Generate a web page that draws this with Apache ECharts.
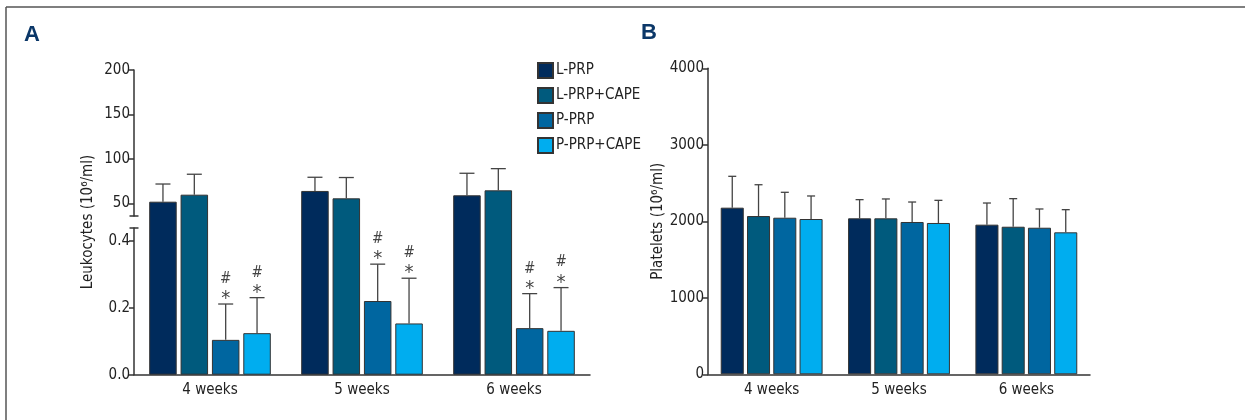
<!DOCTYPE html>
<html>
<head>
<meta charset="utf-8">
<script src="https://cdn.jsdelivr.net/npm/echarts@6/dist/echarts.min.js"></script>
<style>
html, body { margin: 0; padding: 0; background: #fff; }
#main { width: 1245px; height: 420px; }
</style>
</head>
<body>
<div id="main"></div>
<script>
var weeks = ['4 weeks', '5 weeks', '6 weeks'];
var groups = ['L-PRP', 'L-PRP+CAPE', 'P-PRP', 'P-PRP+CAPE'];
var colors = ['#002b5c', '#005a7d', '#0066a0', '#00adef'];

// leukocytes (10^6/ml): mean, mean+SD, significance marks (1 = * and #)
var leukoMean = [
  [51.8, 63.9, 59.0],
  [59.7, 55.6, 64.6],
  [0.104, 0.22, 0.139],
  [0.124, 0.153, 0.131]
];
var leukoTop = [
  [71.7, 79.3, 83.8],
  [82.7, 79.0, 89.0],
  [0.211, 0.33, 0.242],
  [0.23, 0.288, 0.26]
];
var leukoMarks = [
  [0, 0, 0],
  [0, 0, 0],
  [1, 1, 1],
  [1, 1, 1]
];
var leukoUpperTicks = [50, 100, 150, 200];
var leukoLowerTicks = [0, 0.2, 0.4];

// platelets (10^6/ml): mean, mean+SD
var plateMean = [
  [2178, 2039, 1956],
  [2069, 2039, 1929],
  [2047, 1991, 1916],
  [2030, 1978, 1856]
];
var plateTop = [
  [2588, 2283, 2239],
  [2478, 2292, 2296],
  [2379, 2252, 2161],
  [2331, 2274, 2152]
];

var FONT = "'Liberation Sans Narrow', 'DejaVu Sans Condensed', sans-serif";
var TXT = '#222';
var AX = '#333';
var FS = 15;

var chartDom = document.getElementById('main');
var myChart = echarts.init(chartDom);

// broken axis geometry for panel A
var aLeft = 134, aWidth = 456;
var upTop = 70, upBottom = 216;     // 200 at 70, 50 at 203.3
var lowTop = 228, lowBottom = 374.7; // 0 at 374.7, 0.2 per 67px
var upPerPx = 150 / (203.3 - 70);
var upMin = 50 - (upBottom - 203.3) * upPerPx;
var upStart = 50 - (lowBottom - 203.3) * upPerPx;
var lowPerPx = 0.2 / 67;
var lowDataMax = (lowBottom - upBottom) * lowPerPx;
var lowAxisMax = (lowBottom - lowTop) * lowPerPx;

var catGap = 0.2, barGap = 0.14;

function errRender(capW) {
  return function (params, api) {
    var ci = api.value(0), si = api.value(1);
    var top = api.value(2), mean = api.value(3), mark = api.value(4);
    var band = api.size([1, 0])[0];
    var grp = band * (1 - catGap);
    var bw = grp / (4 + 3 * barGap);
    var c = api.coord([ci, mean]);
    var t = api.coord([ci, top]);
    var x = c[0] - grp / 2 + si * bw * (1 + barGap) + bw / 2;
    var lineStyle = { stroke: '#444', lineWidth: 1.3 };
    var children = [
      { type: 'line', shape: { x1: x, y1: c[1], x2: x, y2: t[1] }, style: lineStyle },
      { type: 'line', shape: { x1: x - capW / 2, y1: t[1], x2: x + capW / 2, y2: t[1] }, style: lineStyle }
    ];
    if (mark) {
      children.push({ type: 'text', style: { text: '*', x: x, y: t[1] - 5, align: 'center', verticalAlign: 'middle', font: '20px ' + FONT, fill: '#444' } });
      children.push({ type: 'text', style: { text: '#', x: x, y: t[1] - 25, align: 'center', verticalAlign: 'middle', font: '15px ' + FONT, fill: '#444' } });
    }
    return { type: 'group', children: children };
  };
}

function errData(mean, top, marks, test) {
  var out = [];
  for (var s = 0; s < mean.length; s++) {
    for (var i = 0; i < mean[s].length; i++) {
      if (test(mean[s][i])) out.push([i, s, top[s][i], mean[s][i], marks ? marks[s][i] : 0]);
    }
  }
  return out;
}

var series = [];
groups.forEach(function (g, s) {
  // upper segment of A (values above the break), bars start at the bottom of the chart
  series.push({
    name: g, type: 'bar', xAxisIndex: 0, yAxisIndex: 0, clip: false,
    barCategoryGap: '20%', barGap: '14%',
    itemStyle: { color: colors[s], borderColor: '#333', borderWidth: 1 },
    data: leukoMean[s].map(function (v) { return v > 1 ? v : null; })
  });
  // lower segment of A
  series.push({
    name: g, type: 'bar', xAxisIndex: 1, yAxisIndex: 1,
    barCategoryGap: '20%', barGap: '14%',
    itemStyle: { color: colors[s], borderColor: '#333', borderWidth: 1 },
    data: leukoMean[s].map(function (v) { return v <= 1 ? v : null; })
  });
  // panel B
  series.push({
    name: g, type: 'bar', xAxisIndex: 3, yAxisIndex: 3,
    barCategoryGap: '20%', barGap: '14%',
    itemStyle: { color: colors[s], borderColor: '#333', borderWidth: 1 },
    data: plateMean[s]
  });
});
series.push({
  type: 'custom', xAxisIndex: 0, yAxisIndex: 0, z: 5, silent: true,
  renderItem: errRender(15), encode: { x: 0, y: [2, 3] },
  data: errData(leukoMean, leukoTop, leukoMarks, function (v) { return v > 1; })
});
series.push({
  type: 'custom', xAxisIndex: 1, yAxisIndex: 1, z: 5, silent: true,
  renderItem: errRender(15), encode: { x: 0, y: [2, 3] },
  data: errData(leukoMean, leukoTop, leukoMarks, function (v) { return v <= 1; })
});
series.push({
  type: 'custom', xAxisIndex: 3, yAxisIndex: 3, z: 5, silent: true,
  renderItem: errRender(8), encode: { x: 0, y: [2, 3] },
  data: errData(plateMean, plateTop, null, function () { return true; })
});

var hiddenX = { type: 'category', data: weeks, show: false };
var labelStyle = { color: TXT, fontSize: FS, fontFamily: FONT };

var option = {
  animation: false,
  backgroundColor: '#fff',
  textStyle: { fontFamily: FONT },
  grid: [
    { left: aLeft, width: aWidth, top: upTop, height: upBottom - upTop },
    { left: aLeft, width: aWidth, top: upBottom, height: lowBottom - upBottom },
    { left: aLeft, width: aWidth, top: lowTop, height: lowBottom - lowTop },
    { left: 708, width: 382, top: 68.3, height: 306 }
  ],
  xAxis: [
    Object.assign({ gridIndex: 0 }, hiddenX),
    {
      gridIndex: 1, type: 'category', data: weeks,
      axisLine: { lineStyle: { color: AX, width: 1.5 } },
      axisTick: { alignWithLabel: true, length: 5, lineStyle: { color: AX, width: 1.5 } },
      axisLabel: Object.assign({ margin: 8 }, labelStyle)
    },
    Object.assign({ gridIndex: 2 }, hiddenX),
    {
      gridIndex: 3, type: 'category', data: weeks,
      axisLine: { lineStyle: { color: AX, width: 1.5 } },
      axisTick: { alignWithLabel: true, length: 5, lineStyle: { color: AX, width: 1.5 } },
      axisLabel: Object.assign({ margin: 8 }, labelStyle)
    }
  ],
  yAxis: [
    {
      gridIndex: 0, type: 'value', min: upMin, max: 200, startValue: upStart,
      splitLine: { show: false },
      axisLine: { show: true, lineStyle: { color: AX, width: 1.5 } },
      axisTick: { show: true, length: 5, customValues: leukoUpperTicks, lineStyle: { color: AX, width: 1.5 } },
      axisLabel: Object.assign({ margin: 4, customValues: leukoUpperTicks }, labelStyle)
    },
    {
      gridIndex: 1, type: 'value', min: 0, max: lowDataMax, show: false, splitLine: { show: false }
    },
    {
      gridIndex: 2, type: 'value', min: 0, max: lowAxisMax,
      splitLine: { show: false },
      axisLine: { show: true, lineStyle: { color: AX, width: 1.5 } },
      axisTick: { show: true, length: 5, customValues: leukoLowerTicks, lineStyle: { color: AX, width: 1.5 } },
      axisLabel: Object.assign({
        margin: 4, customValues: leukoLowerTicks,
        formatter: function (v) { return v.toFixed(1); }
      }, labelStyle)
    },
    {
      gridIndex: 3, type: 'value', min: 0, max: 4000, interval: 1000,
      name: 'Platelets (10\u2076/ml)', nameLocation: 'middle', nameGap: 34,
      nameTextStyle: { color: TXT, fontSize: FS, fontFamily: FONT },
      splitLine: { show: false },
      axisLine: { show: true, lineStyle: { color: AX, width: 1.5 } },
      axisTick: { show: true, length: 5, lineStyle: { color: AX, width: 1.5 } },
      axisLabel: Object.assign({ margin: 4, formatter: function (v) { return String(v); } }, labelStyle)
    }
  ],
  legend: {
    data: groups, orient: 'vertical', left: 537, top: 62, padding: 0,
    itemWidth: 15, itemHeight: 15, itemGap: 8, icon: 'rect',
    textStyle: { color: TXT, fontSize: FS, fontFamily: FONT, padding: [0, 0, 0, -2] }
  },
  graphic: [
    { type: 'line', shape: { x1: 6, y1: 7, x2: 1245, y2: 7 }, style: { stroke: '#555', lineWidth: 1.5 } },
    { type: 'line', shape: { x1: 6, y1: 7, x2: 6, y2: 420 }, style: { stroke: '#555', lineWidth: 1.5 } },
    { type: 'text', x: 32, y: 35, style: { text: 'A', font: 'bold 22px Liberation Sans, Arial, sans-serif', fill: '#0b3768', align: 'center', verticalAlign: 'middle' } },
    { type: 'text', x: 649, y: 33, style: { text: 'B', font: 'bold 22px Liberation Sans, Arial, sans-serif', fill: '#0b3768', align: 'center', verticalAlign: 'middle' } },
    { type: 'text', x: 88, y: 222, rotation: Math.PI / 2, style: { text: 'Leukocytes (10\u2076/ml)', font: FS + 'px ' + FONT, fill: TXT, align: 'center', verticalAlign: 'middle' } },
    { type: 'line', shape: { x1: aLeft - 4.5, y1: upBottom, x2: aLeft + 4.5, y2: upBottom }, style: { stroke: AX, lineWidth: 1.5 } },
    { type: 'line', shape: { x1: aLeft - 4.5, y1: lowTop, x2: aLeft + 4.5, y2: lowTop }, style: { stroke: AX, lineWidth: 1.5 } }
  ],
  series: series
};

option && myChart.setOption(option);
</script>
</body>
</html>
